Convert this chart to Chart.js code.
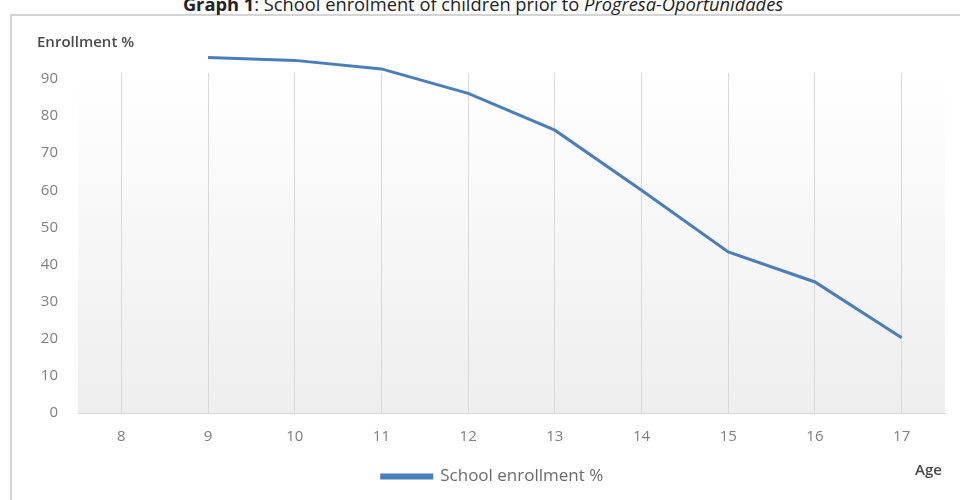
<!DOCTYPE html>
<html>
<head>
<meta charset="utf-8">
<script src="https://cdn.jsdelivr.net/npm/chart.js@4/dist/chart.umd.min.js"></script>
<style>
  html, body { margin: 0; padding: 0; background: #ffffff; }
  #wrap { position: relative; width: 960px; height: 500px; overflow: hidden; }
  #frame { position: absolute; left: 10px; top: 14px; width: 960px; height: 500px;
           border-top: 2px solid #d4d4d4; border-left: 2px solid #d4d4d4; box-sizing: border-box; }
  #title { position: absolute; left: 0; width: 966px; top: -9px; text-align: center;
           font-family: "Open Sans", sans-serif; font-size: 18.3px; color: #222; white-space: nowrap; }
  #ylab { position: absolute; left: 37px; top: 31px; font-family: "Open Sans", sans-serif;
          font-size: 15px; font-weight: 600; color: #4a4a4a; }
  #xlab { position: absolute; left: 915px; top: 459px; font-family: "Open Sans", sans-serif;
          font-size: 15px; font-weight: 600; color: #4a4a4a; }
  canvas { position: absolute; left: 0; top: 0; }
</style>
</head>
<body>
<div id="wrap">
  <div id="frame"></div>
  <div id="title"><b>Graph 1</b>: School enrolment of children prior to <i>Progresa-Oportunidades</i></div>
  <canvas id="c" width="960" height="500"></canvas>
  <div id="ylab">Enrollment %</div>
  <div id="xlab">Age</div>
</div>
<script>
const ages = ['8', '9', '10', '11', '12', '13', '14', '15', '16', '17'];
const enrollment = [null, 95.8, 95.0, 92.7, 86.1, 76.2, 60.0, 43.4, 35.3, 20.3];
const seriesName = 'School enrollment %';
const yTicks = [0, 10, 20, 30, 40, 50, 60, 70, 80, 90];

const plotBg = {
  id: 'plotBg',
  beforeDraw(chart) {
    const { ctx, chartArea: a } = chart;
    const g = ctx.createLinearGradient(0, a.top, 0, a.bottom);
    g.addColorStop(0, '#ffffff');
    g.addColorStop(1, '#eeeeee');
    ctx.save();
    ctx.fillStyle = g;
    ctx.fillRect(a.left, a.top, a.right - a.left, a.bottom - a.top);
    ctx.restore();
  }
};

new Chart(document.getElementById('c'), {
  type: 'line',
  data: {
    labels: ages,
    datasets: [{
      label: seriesName,
      data: enrollment,
      borderColor: '#4a7ebb',
      backgroundColor: '#4a7ebb',
      borderWidth: 3,
      pointRadius: 0,
      tension: 0,
      clip: false
    }]
  },
  options: {
    responsive: false,
    animation: false,
    layout: { padding: { left: 40, right: 15, top: 73, bottom: 5 } },
    plugins: {
      tooltip: { enabled: false },
      legend: {
        position: 'bottom',
        labels: {
          boxWidth: 50, boxHeight: 3,
          color: '#6b6b6b',
          font: { family: 'Open Sans', size: 17 },
          padding: 10
        }
      }
    },
    scales: {
      x: {
        offset: true,
        grid: { offset: false, color: '#d9d9d9', lineWidth: 1, drawTicks: false },
        border: { display: true, color: '#d9d9d9' },
        ticks: { color: '#7f7f7f', font: { family: 'Open Sans', size: 15 }, padding: 15 },
        afterFit(s) { s.height = 45; }
      },
      y: {
        min: 0, max: 91.6,
        grid: { display: false, drawTicks: false },
        border: { display: false },
        ticks: { stepSize: 10, color: '#7f7f7f', font: { family: 'Open Sans', size: 15 }, padding: 20 },
        afterBuildTicks(s) { s.ticks = yTicks.map(v => ({ value: v })); },
        afterFit(s) { s.width = 38; }
      }
    }
  },
  plugins: [plotBg]
});
</script>
</body>
</html>
